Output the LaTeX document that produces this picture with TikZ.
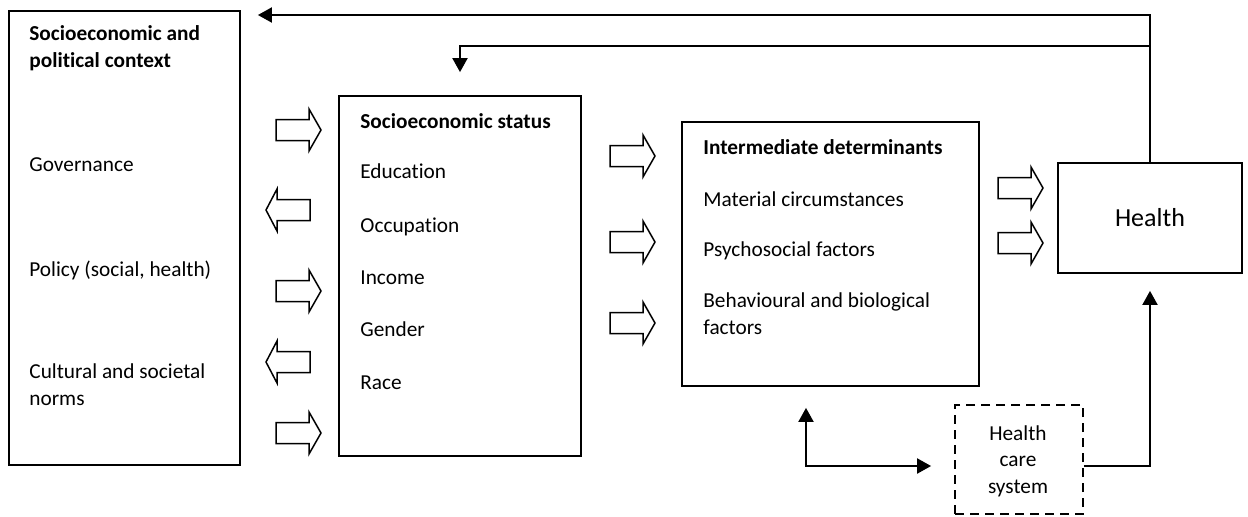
\documentclass[tikz,border=0pt]{standalone}
\usepackage{fontspec}
\setmainfont{Carlito}[Ligatures=NoCommon]
\usetikzlibrary{arrows.meta}
\tikzset{
  every node/.style={font=\fontsize{10.65pt}{13.3pt}\selectfont},
  box/.style={draw, line width=0.9pt, rectangle, inner sep=0pt},
  dbox/.style={draw, line width=0.9pt, rectangle, inner sep=0pt, dash pattern=on 4.5pt off 3pt},
  lbl/.style={anchor=base west, inner sep=0pt, align=left},
  ttl/.style={lbl, font=\fontsize{10.65pt}{13.3pt}\selectfont\bfseries},
  conn/.style={line width=1pt, -{Triangle[width=7.5pt,length=7pt]}},
  dconn/.style={line width=1pt, {Triangle[width=7.5pt,length=7pt]}-{Triangle[width=7.5pt,length=7pt]}},
  blk/.style={draw, line width=0.75pt, line join=miter, fill=white},
  rarr/.pic={\path[blk] (0,-10.5) -- (33,-10.5) -- (33,-21) -- (45,0) -- (33,21) -- (33,10.5) -- (0,10.5) -- cycle;},
  larr/.pic={\path[blk] (0,0) -- (11,-21) -- (11,-10.5) -- (44,-10.5) -- (44,10.5) -- (11,10.5) -- (11,21) -- cycle;}
}
\begin{document}
\begin{tikzpicture}[x=0.5pt,y=-0.5pt]
\useasboundingbox (0,0) rectangle (1248,516);
% boxes
\node[box, minimum width=115.5pt, minimum height=227pt] (ctx) at (124.5,238) {};
\node[box, minimum width=121pt, minimum height=180pt] (ses) at (460,276) {};
\node[box, minimum width=148.5pt, minimum height=132pt] (inter) at (830.5,254) {};
\node[box, minimum width=92pt, minimum height=55pt, font=\fontsize{13pt}{15pt}\selectfont] (health) at (1150,218) {Health};
\node[dbox, minimum width=64pt, minimum height=54.5pt] (hcs) at (1019,459.5) {};
\node[align=center, inner sep=0pt] (hcst) at (1018,461) {Health\\care\\system};
% left box text
\node[ttl] (t1) at (29,67) {Socioeconomic and\\political context};
\node[lbl] (t2) at (29,171) {Governance};
\node[lbl] (t3) at (29,276) {Policy (social, health)};
\node[lbl] (t4) at (29,405) {Cultural and societal\\norms};
% ses text
\node[ttl] (s0) at (360,128) {Socioeconomic status};
\node[lbl] (s1) at (360,178) {Education};
\node[lbl] (s2) at (360,232) {Occupation};
\node[lbl] (s3) at (360,284) {Income};
\node[lbl] (s4) at (360,336) {Gender};
\node[lbl] (s5) at (360,389) {Race};
% intermediate text
\node[ttl] (i0) at (703,154) {Intermediate determinants};
\node[lbl] (i1) at (703,206) {Material circumstances};
\node[lbl] (i2) at (703,256) {Psychosocial factors};
\node[lbl] (i3) at (703,334) {Behavioural and biological\\factors};
% block arrows
\pic at (276,130) {rarr};
\pic at (266,210) {larr};
\pic at (276,291) {rarr};
\pic at (266,362) {larr};
\pic at (276,433) {rarr};
\pic at (610,156) {rarr};
\pic at (610,242) {rarr};
\pic at (610,323) {rarr};
\pic at (998,188) {rarr};
\pic at (998,243) {rarr};
% connectors
\coordinate (ytop) at (0,15);
\coordinate (ysec) at (0,46);
\coordinate (lc) at (806,466);
\draw[conn, shorten >=8.5pt] (health.north) -- (health.north |- ytop) -- (ctx.east |- ytop);
\draw[conn, shorten >=11.5pt] (health.north |- ysec) -| (ses.north);
\draw[dconn, shorten <=10.5pt, shorten >=11.5pt] (inter.south -| lc) -- (lc) -- (hcs.west |- lc);
\draw[conn, shorten >=8.5pt] (hcs.east |- lc) -| (health.south);
\end{tikzpicture}
\end{document}
